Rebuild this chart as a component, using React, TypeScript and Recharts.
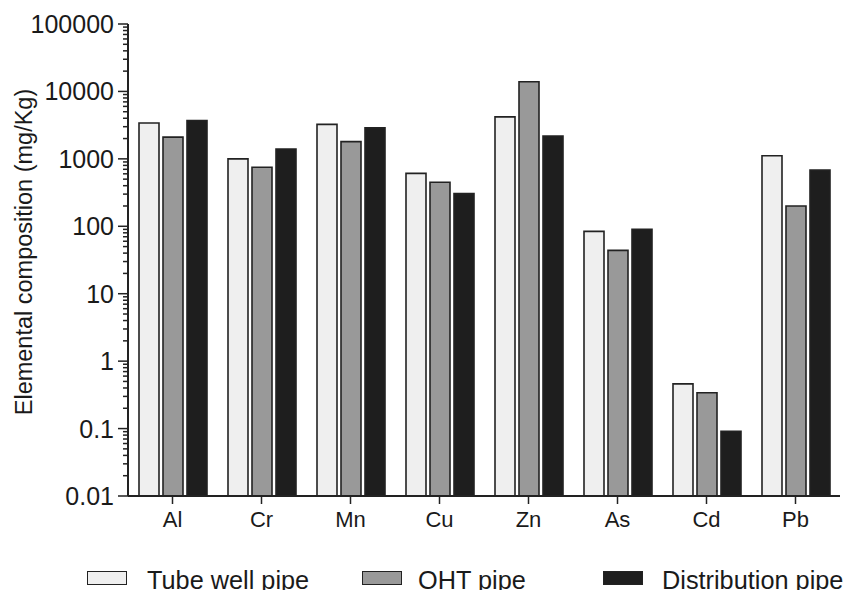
import React from 'react';
import { BarChart, Bar, XAxis, YAxis, Legend } from 'recharts';

const elements = ['Al', 'Cr', 'Mn', 'Cu', 'Zn', 'As', 'Cd', 'Pb'];
const tubeWell = [3400, 1000, 3250, 610, 4200, 84, 0.46, 1110];
const ohtPipe = [2100, 750, 1800, 450, 13900, 44, 0.34, 200];
const distribution = [3700, 1400, 2900, 305, 2180, 90, 0.091, 680];

const seriesNames = ['Tube well pipe', 'OHT pipe', 'Distribution pipe'];
const seriesColors = ['#efefef', '#999999', '#1e1e1e'];

const majorTicks = [0.01, 0.1, 1, 10, 100, 1000, 10000, 100000];
const minorMultipliers = [2, 3, 4, 5, 6, 7, 8, 9];
const yLabel = 'Elemental composition (mg/Kg)';

const data = elements.map((el, i) => ({
  name: el,
  tube: tubeWell[i],
  oht: ohtPipe[i],
  dist: distribution[i],
}));

const allTicks: number[] = [];
majorTicks.forEach((m, i) => {
  allTicks.push(m);
  if (i < majorTicks.length - 1) {
    minorMultipliers.forEach((k) => allTicks.push(parseFloat((m * k).toPrecision(6))));
  }
});

const isMajor = (v: number) => majorTicks.some((m) => Math.abs(m - v) / m < 1e-9);

const FONT = '"Liberation Sans", Arial, Helvetica, sans-serif';
const AXIS = '#222222';

const YTick = (props: any) => {
  const { x, y, payload } = props;
  const v = payload.value;
  const major = isMajor(v);
  return (
    <g>
      <line x1={x - (major ? 10 : 5)} x2={x} y1={y} y2={y} stroke={AXIS} strokeWidth={1.5} />
      {major && (
        <text x={x - 14} y={y} dy="0.36em" textAnchor="end" fontSize={25} fill="#1a1a1a" fontFamily={FONT}>
          {String(v)}
        </text>
      )}
    </g>
  );
};

const YLabel = (props: any) => {
  const vb = props.viewBox || {};
  const cy = (vb.y || 0) + (vb.height || 0) / 2 - 8;
  const cx = 32;
  return (
    <text
      x={cx}
      y={cy}
      transform={`rotate(-90 ${cx} ${cy})`}
      textAnchor="middle"
      fontSize={23.5}
      fill="#1a1a1a"
      fontFamily={FONT}
    >
      {yLabel}
    </text>
  );
};

const legendLefts = [87, 362, 603];
const textOffsets = [60, 56, 59];

const LegendContent = (props: any) => {
  const payload = [...(props.payload || [])].sort(
    (a: any, b: any) => seriesNames.indexOf(a.value) - seriesNames.indexOf(b.value)
  );
  return (
    <div style={{ position: 'relative', width: 847, height: 24 }}>
      {payload.map((p: any, i: number) => (
        <div key={i} style={{ position: 'absolute', left: legendLefts[i], top: 0, height: 24, whiteSpace: 'nowrap' }}>
          <div
            style={{
              position: 'absolute',
              left: 0,
              top: 4,
              width: 38,
              height: 12,
              background: p.color,
              border: `1.5px solid ${AXIS}`,
            }}
          />
          <span
            style={{
              position: 'absolute',
              left: textOffsets[i],
              top: -1,
              fontSize: 25.3,
              lineHeight: 'normal',
              color: '#1a1a1a',
              fontFamily: FONT,
            }}
          >
            {p.value}
          </span>
        </div>
      ))}
    </div>
  );
};

export default function App() {
  return (
    <div style={{ position: 'absolute', left: 0, top: 0, width: 847, height: 590, background: '#fff', fontFamily: FONT, overflow: 'hidden' }}>
      <BarChart
        width={847}
        height={590}
        data={data}
        margin={{ top: 24, right: 7, left: 0, bottom: 0 }}
        barCategoryGap={11}
        barGap={4}
      >
        <XAxis
          dataKey="name"
          height={70}
          tickSize={8}
          tickMargin={7}
          axisLine={{ stroke: AXIS, strokeWidth: 2 }}
          tickLine={{ stroke: AXIS, strokeWidth: 1.5 }}
          tick={{ fontSize: 22, fill: '#1a1a1a', fontFamily: FONT }}
          interval={0}
        />
        <YAxis
          type="number"
          scale="log"
          domain={[0.01, 100000]}
          allowDataOverflow
          ticks={allTicks}
          interval={0}
          width={128}
          tickSize={0}
          tickMargin={0}
          tickLine={false}
          axisLine={{ stroke: AXIS, strokeWidth: 2 }}
          tick={<YTick />}
          label={<YLabel />}
        />
        <Legend
          verticalAlign="bottom"
          align="left"
          content={<LegendContent />}
          wrapperStyle={{ left: 0, top: 567, width: 847, height: 24 }}
        />
        <Bar dataKey="tube" name={seriesNames[0]} fill={seriesColors[0]} stroke={AXIS} strokeWidth={1.6} isAnimationActive={false} />
        <Bar dataKey="oht" name={seriesNames[1]} fill={seriesColors[1]} stroke={AXIS} strokeWidth={1.6} isAnimationActive={false} />
        <Bar dataKey="dist" name={seriesNames[2]} fill={seriesColors[2]} stroke={AXIS} strokeWidth={1.6} isAnimationActive={false} />
      </BarChart>
    </div>
  );
}
